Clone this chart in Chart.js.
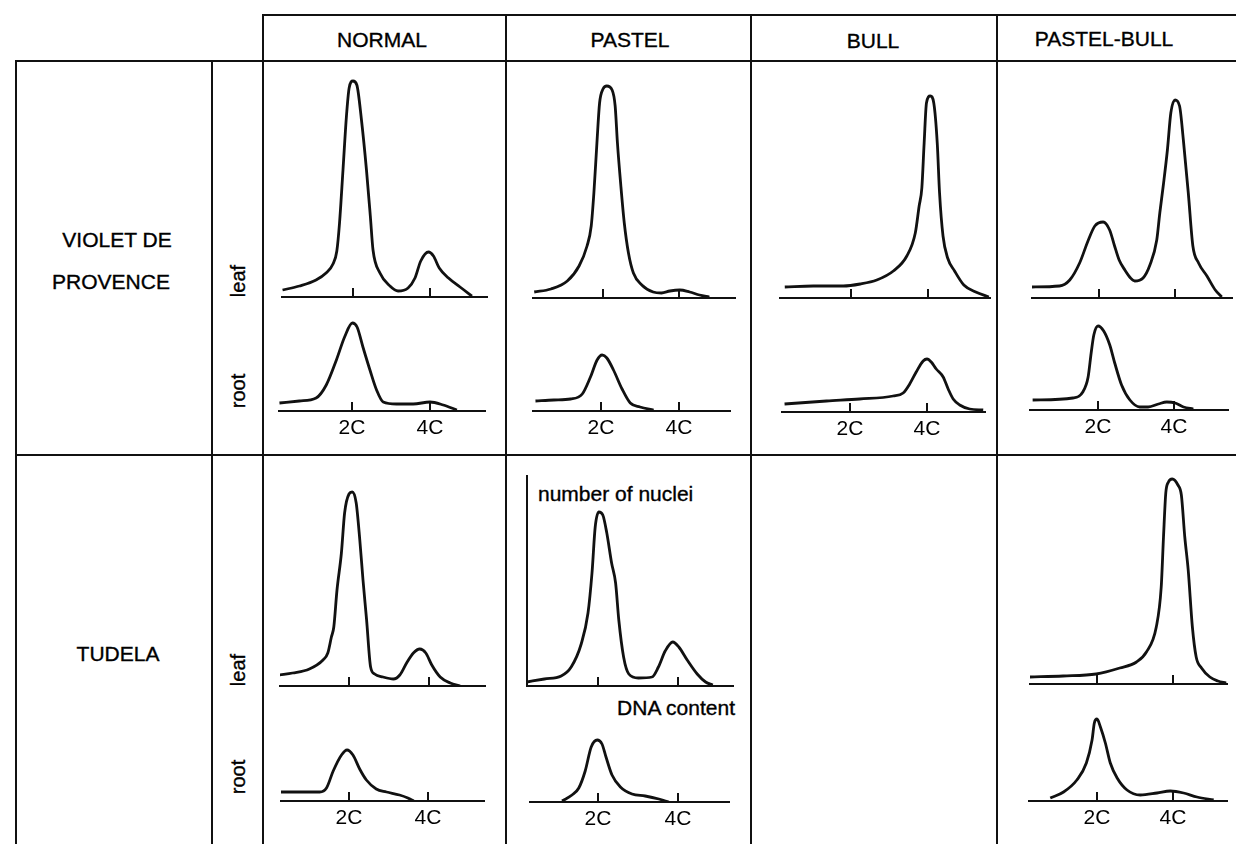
<!DOCTYPE html>
<html>
<head>
<meta charset="utf-8">
<script src="https://cdn.jsdelivr.net/npm/chart.js@4.4.1/dist/chart.umd.min.js"></script>
<style>
  body { margin: 0; background: #fff; }
  #page { position: relative; width: 1236px; height: 844px; overflow: hidden;
          font-family: "Liberation Sans", Arial, Helvetica, sans-serif; color: #000; }
  .rule { position: absolute; background: #111; }
  .txt { position: absolute; font-size: 21px; line-height: 1; white-space: nowrap;
         -webkit-text-stroke: 0.35px #000; }
  canvas { position: absolute; }
</style>
</head>
<body>
<div id="page"></div>
<script>
// Categories and labels
const genotypes = ['NORMAL', 'PASTEL', 'BULL', 'PASTEL-BULL'];
const varieties = [['VIOLET DE', 'PROVENCE'], ['TUDELA']];
const tissues = ['leaf', 'root'];
const tickValues = [2, 4];
const tickLabels = ['2C', '4C'];
const yAxisTitle = 'number of nuclei';
const xAxisTitle = 'DNA content';

// DNA content (C units) and number of nuclei (arbitrary units)
const normalVdpLeafDna = [0.17, 0.61, 1.04, 1.30, 1.48, 1.58, 1.65, 1.74, 1.83, 1.90, 2.00, 2.10, 2.22, 2.35, 2.45, 2.52, 2.70, 2.96, 3.17, 3.43, 3.61, 3.76, 3.96, 4.09, 4.24, 4.48, 4.78, 5.09];
const normalVdpLeafCount = [7, 11, 17, 24, 33, 46, 74, 127, 181, 209, 216, 212, 177, 127, 81, 47, 24, 11, 6, 9, 19, 36, 45, 41, 29, 19, 10, 1];

const normalVdpRootDna = [0.14, 0.65, 1.08, 1.34, 1.60, 1.81, 2.01, 2.13, 2.28, 2.46, 2.63, 2.80, 3.14, 3.57, 4.00, 4.34, 4.69];
const normalVdpRootCount = [8, 10, 13, 26, 51, 74, 88, 84, 64, 41, 21, 9, 7, 7, 9, 6, 1];

const pastelVdpLeafDna = [0.19, 0.63, 1.06, 1.37, 1.58, 1.69, 1.76, 1.84, 1.91, 2.00, 2.10, 2.24, 2.32, 2.38, 2.47, 2.56, 2.67, 2.80, 3.02, 3.32, 3.54, 3.76, 4.02, 4.28, 4.54, 4.80];
const pastelVdpLeafCount = [6, 9, 17, 32, 52, 72, 105, 155, 195, 209, 212, 208, 192, 155, 112, 75, 45, 25, 13, 6, 5, 7, 8, 6, 3, 1];

const pastelVdpRootDna = [0.32, 0.79, 1.22, 1.52, 1.73, 1.90, 2.03, 2.15, 2.32, 2.54, 2.75, 3.00, 3.35];
const pastelVdpRootCount = [10, 11, 12, 17, 34, 51, 56, 53, 41, 22, 8, 4, 1];

const bullVdpLeafDna = [0.28, 1.02, 1.80, 2.24, 2.67, 3.10, 3.45, 3.67, 3.77, 3.84, 3.90, 3.96, 4.06, 4.15, 4.24, 4.30, 4.39, 4.51, 4.69, 4.93, 5.24, 5.58];
const bullVdpLeafCount = [11, 12, 12, 14, 18, 27, 42, 65, 92, 110, 155, 195, 202, 195, 155, 105, 62, 40, 27, 13, 6, 1];

const bullVdpRootDna = [0.30, 1.39, 2.25, 3.12, 3.38, 3.55, 3.72, 3.90, 4.00, 4.11, 4.24, 4.42, 4.55, 4.68, 4.85, 5.11, 5.46];
const bullVdpRootCount = [8, 11, 13, 16, 19, 28, 40, 51, 53, 50, 43, 35, 23, 13, 7, 3, 2];

const pbVdpLeafDna = [0.21, 0.96, 1.23, 1.49, 1.71, 1.89, 2.11, 2.28, 2.41, 2.53, 2.68, 2.83, 2.94, 3.16, 3.34, 3.52, 3.60, 3.69, 3.80, 3.89, 4.00, 4.12, 4.22, 4.35, 4.47, 4.62, 4.84, 5.06, 5.23];
const pbVdpLeafCount = [11, 12, 18, 35, 57, 72, 76, 68, 52, 38, 28, 20, 17, 20, 33, 58, 85, 112, 148, 185, 198, 192, 158, 105, 52, 35, 22, 8, 1];

const pbVdpRootDna = [0.28, 1.34, 1.60, 1.74, 1.82, 1.89, 2.00, 2.15, 2.31, 2.44, 2.62, 2.84, 3.10, 3.32, 3.59, 3.81, 4.03, 4.25, 4.51];
const pbVdpRootCount = [10, 12, 18, 33, 57, 75, 84, 79, 65, 47, 25, 10, 3, 3, 6, 8, 7, 3, 1];

const normalTudLeafDna = [0.26, 0.59, 1.01, 1.35, 1.47, 1.56, 1.62, 1.70, 1.81, 1.89, 2.00, 2.08, 2.18, 2.27, 2.35, 2.44, 2.54, 2.64, 2.85, 3.11, 3.27, 3.44, 3.61, 3.77, 3.92, 4.07, 4.28, 4.53, 4.78];
const normalTudLeafCount = [11, 13, 17, 26, 33, 49, 59, 96, 133, 173, 192, 194, 183, 146, 106, 66, 19, 12, 9, 7, 11, 23, 33, 37, 33, 21, 9, 3, 0];

const normalTudRootDna = [0.26, 0.75, 1.26, 1.43, 1.60, 1.81, 1.95, 2.10, 2.27, 2.44, 2.69, 2.95, 3.28, 3.49, 3.64];
const normalTudRootCount = [9, 9, 9, 13, 30, 46, 51, 46, 32, 21, 12, 9, 6, 3, 0];

const pastelTudLeafDna = [0.22, 0.66, 1.08, 1.33, 1.58, 1.75, 1.85, 1.93, 2.02, 2.12, 2.22, 2.34, 2.44, 2.52, 2.64, 2.77, 3.01, 3.35, 3.51, 3.68, 3.87, 4.02, 4.23, 4.48, 4.69, 4.87];
const pastelTudLeafCount = [4, 7, 10, 19, 42, 73, 113, 159, 174, 171, 153, 123, 103, 66, 29, 12, 8, 9, 19, 35, 44, 39, 26, 12, 4, 1];

const pastelTudRootDna = [1.10, 1.35, 1.52, 1.68, 1.83, 1.98, 2.10, 2.20, 2.35, 2.56, 2.85, 3.18, 3.52, 3.77];
const pastelTudRootCount = [1, 7, 14, 31, 55, 62, 58, 45, 27, 15, 8, 6, 3, 0];

const pbTudLeafDna = [0.23, 1.11, 1.98, 2.60, 3.04, 3.30, 3.56, 3.69, 3.75, 3.81, 3.88, 3.98, 4.13, 4.22, 4.31, 4.40, 4.51, 4.61, 4.75, 4.97, 5.18, 5.40];
const pbTudLeafCount = [7, 8, 10, 16, 22, 32, 57, 97, 147, 191, 202, 205, 199, 189, 147, 114, 57, 27, 16, 7, 3, 1];

const pbTudRootDna = [0.77, 1.12, 1.47, 1.72, 1.87, 1.93, 2.00, 2.09, 2.22, 2.35, 2.53, 2.79, 3.14, 3.58, 3.93, 4.28, 4.63, 5.07];
const pbTudRootCount = [3, 9, 21, 38, 61, 78, 82, 74, 58, 38, 23, 11, 6, 8, 10, 8, 4, 1];

const FONT = '"Liberation Sans", Arial, Helvetica, sans-serif';
const page = document.getElementById('page');

// Panel placement: axis ends, 2C/4C tick pixels, baseline
const panels = [
  { dna: normalVdpLeafDna, count: normalVdpLeafCount, left: 282, right: 487, p2: 353, p4: 430, base: 297, yMax: 225 },
  { dna: normalVdpRootDna, count: normalVdpRootCount, left: 279, right: 485, p2: 352, p4: 430, base: 411, yMax: 100, labels: true },
  { dna: pastelVdpLeafDna, count: pastelVdpLeafCount, left: 533, right: 735, p2: 603, p4: 679, base: 298, yMax: 225 },
  { dna: pastelVdpRootDna, count: pastelVdpRootCount, left: 533, right: 730, p2: 601, p4: 679, base: 411, yMax: 100, labels: true },
  { dna: bullVdpLeafDna, count: bullVdpLeafCount, left: 780, right: 990, p2: 851, p4: 928, base: 298, yMax: 225 },
  { dna: bullVdpRootDna, count: bullVdpRootCount, left: 782, right: 985, p2: 850, p4: 927, base: 412, yMax: 100, labels: true },
  { dna: pbVdpLeafDna, count: pbVdpLeafCount, left: 1032, right: 1232, p2: 1099, p4: 1175, base: 298, yMax: 225 },
  { dna: pbVdpRootDna, count: pbVdpRootCount, left: 1030, right: 1228, p2: 1098, p4: 1174, base: 410, yMax: 100, labels: true },
  { dna: normalTudLeafDna, count: normalTudLeafCount, left: 280, right: 485, p2: 349, p4: 429, base: 686, yMax: 225 },
  { dna: normalTudRootDna, count: normalTudRootCount, left: 281, right: 484, p2: 349, p4: 428, base: 801, yMax: 100, labels: true },
  { dna: pastelTudLeafDna, count: pastelTudLeafCount, left: 527, right: 733, p2: 598, p4: 678, base: 686, yMax: 210, yAxis: true },
  { dna: pastelTudRootDna, count: pastelTudRootCount, left: 530, right: 729, p2: 598, p4: 678, base: 802, yMax: 100, labels: true },
  { dna: pbTudLeafDna, count: pbTudLeafCount, left: 1030, right: 1227, p2: 1097, p4: 1173, base: 684, yMax: 225 },
  { dna: pbTudRootDna, count: pbTudRootCount, left: 1029, right: 1227, p2: 1097, p4: 1173, base: 801, yMax: 100, labels: true },
];

// Table rules
function rule(x, y, w, h) {
  const d = document.createElement('div');
  d.className = 'rule';
  Object.assign(d.style, { left: x + 'px', top: y + 'px', width: w + 'px', height: h + 'px' });
  page.appendChild(d);
}
rule(263, 14, 973, 2);
rule(16, 60, 1220, 2);
rule(16, 454, 1220, 2);
[16, 212].forEach(x => rule(x - 1, 60, 2, 784));
[263, 506, 751, 997].forEach(x => rule(x - 1, 14, 2, 830));

function text(str, cx, cy, opts = {}) {
  const d = document.createElement('div');
  d.className = 'txt';
  d.textContent = str;
  if (opts.size) d.style.fontSize = opts.size + 'px';
  d.style.left = cx + 'px';
  d.style.top = cy + 'px';
  let tr = opts.align === 'left' ? 'translate(0,-50%)' : opts.align === 'right' ? 'translate(-100%,-50%)' : 'translate(-50%,-50%)';
  if (opts.rotate) tr += ' rotate(-90deg)';
  d.style.transform = tr;
  page.appendChild(d);
}

// Column heads
[[382, 39], [630, 39], [873, 40], [1104, 38]].forEach(([x, y], i) => text(genotypes[i], x, y));
// Row heads
text(varieties[0][0], 117, 239);
text(varieties[0][1], 111, 281);
text(varieties[1][0], 118, 653);
// Tissue labels
[[281, 0], [391, 1], [670, 0], [777, 1]].forEach(([y, t]) => text(tissues[t], 238, y, { size: 20, rotate: true }));
// Axis captions
text(yAxisTitle, 538, 493, { align: 'left' });
text(xAxisTitle, 735, 707, { align: 'right' });

// Small ticks pointing up from the baseline
const innerTicks = {
  id: 'innerTicks',
  afterDatasetsDraw(chart) {
    const xs = chart.scales.x, ctx = chart.ctx, b = chart.chartArea.bottom;
    ctx.save();
    ctx.strokeStyle = '#111';
    ctx.lineWidth = 2;
    xs.ticks.forEach(t => {
      const px = Math.round(xs.getPixelForValue(t.value));
      ctx.beginPath();
      ctx.moveTo(px, b);
      ctx.lineTo(px, b - 9);
      ctx.stroke();
    });
    ctx.restore();
  }
};

function makePanel(p) {
  const PAD = 6;
  const axisH = p.labels ? 34 : 4;
  const width = p.right - p.left + 2 * PAD;
  const height = PAD + p.yMax + axisH;
  const c = document.createElement('canvas');
  c.width = width;
  c.height = height;
  Object.assign(c.style, {
    left: (p.left - PAD) + 'px', top: (p.base - p.yMax - PAD) + 'px',
    width: width + 'px', height: height + 'px'
  });
  page.appendChild(c);

  const ppc = (p.p4 - p.p2) / 2;
  const xMin = 2 - (p.p2 - p.left) / ppc;
  const xMax = 4 + (p.right - p.p4) / ppc;

  new Chart(c, {
    type: 'line',
    data: {
      datasets: [{
        data: p.dna.map((x, i) => ({ x, y: p.count[i] })),
        borderColor: '#111',
        borderWidth: 2.8,
        pointRadius: 0,
        fill: false,
        cubicInterpolationMode: 'monotone',
      }],
    },
    options: {
      responsive: false,
      animation: false,
      devicePixelRatio: 1,
      layout: { padding: { left: PAD, right: PAD, top: PAD, bottom: 0 } },
      plugins: { legend: { display: false }, tooltip: { enabled: false } },
      scales: {
        x: {
          type: 'linear', min: xMin, max: xMax,
          afterBuildTicks: a => { a.ticks = tickValues.map(v => ({ value: v })); },
          afterFit: s => { s.height = axisH; },
          grid: { display: false, drawTicks: false },
          border: { display: true, color: '#111', width: 2 },
          ticks: {
            display: !!p.labels, autoSkip: false, maxRotation: 0, padding: 5,
            color: '#000', font: { family: FONT, size: 21 },
            callback: (v, i) => tickLabels[i],
          },
        },
        y: {
          type: 'linear', min: 0, max: p.yMax, display: !!p.yAxis,
          afterFit: s => { s.width = 0; },
          grid: { display: false, drawTicks: false },
          border: { display: true, color: '#111', width: 2 },
          ticks: { display: false },
        },
      },
    },
    plugins: [innerTicks],
  });
}

panels.forEach(makePanel);
</script>
</body>
</html>
